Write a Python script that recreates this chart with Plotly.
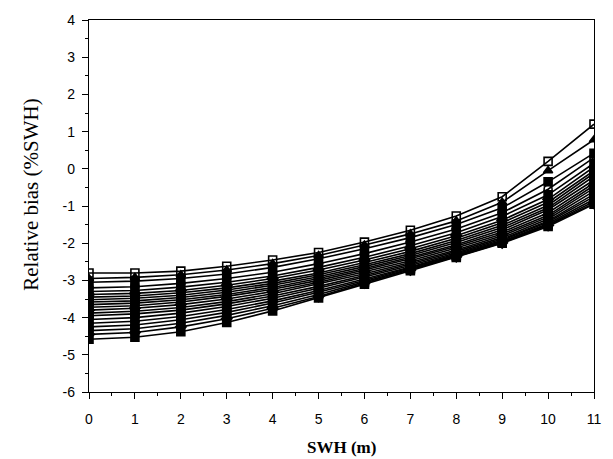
import plotly.graph_objects as go

# Significant wave height bins (m)
swh = [0, 1, 2, 3, 4, 5, 6, 7, 8, 9, 10, 11]

# Relative bias (% of SWH) for each model run, one list per curve
bias_01 = [-2.80, -2.80, -2.75, -2.62, -2.45, -2.25, -1.97, -1.65, -1.27, -0.75, 0.20, 1.20]
bias_02 = [-2.95, -2.92, -2.85, -2.72, -2.55, -2.33, -2.05, -1.75, -1.40, -0.90, -0.05, 0.78]
bias_03 = [-3.05, -3.02, -2.95, -2.83, -2.65, -2.42, -2.15, -1.85, -1.50, -1.05, -0.35, 0.42]
bias_04 = [-3.20, -3.17, -3.08, -2.95, -2.78, -2.55, -2.28, -1.97, -1.62, -1.18, -0.55, 0.30]
bias_05 = [-3.30, -3.27, -3.18, -3.05, -2.88, -2.65, -2.38, -2.07, -1.72, -1.28, -0.70, 0.15]
bias_06 = [-3.38, -3.35, -3.27, -3.13, -2.95, -2.72, -2.45, -2.15, -1.80, -1.38, -0.82, 0.05]
bias_07 = [-3.45, -3.42, -3.33, -3.20, -3.02, -2.80, -2.52, -2.22, -1.87, -1.45, -0.90, -0.05]
bias_08 = [-3.52, -3.48, -3.40, -3.26, -3.08, -2.85, -2.58, -2.28, -1.93, -1.52, -0.98, -0.12]
bias_09 = [-3.58, -3.55, -3.46, -3.32, -3.13, -2.90, -2.63, -2.33, -1.98, -1.58, -1.05, -0.20]
bias_10 = [-3.65, -3.61, -3.52, -3.38, -3.19, -2.95, -2.68, -2.38, -2.04, -1.64, -1.10, -0.30]
bias_11 = [-3.72, -3.68, -3.58, -3.43, -3.24, -3.00, -2.72, -2.42, -2.08, -1.70, -1.18, -0.38]
bias_12 = [-3.80, -3.75, -3.65, -3.50, -3.30, -3.05, -2.77, -2.47, -2.13, -1.75, -1.25, -0.45]
bias_13 = [-3.88, -3.83, -3.73, -3.57, -3.36, -3.10, -2.82, -2.52, -2.18, -1.80, -1.30, -0.52]
bias_14 = [-3.95, -3.90, -3.80, -3.63, -3.42, -3.16, -2.87, -2.56, -2.22, -1.85, -1.35, -0.60]
bias_15 = [-4.05, -4.00, -3.88, -3.70, -3.48, -3.21, -2.91, -2.60, -2.26, -1.89, -1.40, -0.68]
bias_16 = [-4.15, -4.10, -3.97, -3.78, -3.55, -3.27, -2.96, -2.64, -2.29, -1.92, -1.43, -0.75]
bias_17 = [-4.25, -4.20, -4.06, -3.86, -3.61, -3.32, -3.00, -2.67, -2.32, -1.95, -1.47, -0.82]
bias_18 = [-4.35, -4.30, -4.15, -3.94, -3.68, -3.38, -3.04, -2.70, -2.34, -1.97, -1.50, -0.88]
bias_19 = [-4.45, -4.40, -4.25, -4.03, -3.75, -3.43, -3.07, -2.72, -2.36, -1.99, -1.52, -0.93]
bias_20 = [-4.58, -4.53, -4.38, -4.13, -3.82, -3.47, -3.10, -2.74, -2.38, -2.00, -1.55, -0.95]

curves = [bias_01, bias_02, bias_03, bias_04, bias_05, bias_06, bias_07, bias_08, bias_09, bias_10,
          bias_11, bias_12, bias_13, bias_14, bias_15, bias_16, bias_17, bias_18, bias_19, bias_20]

# marker symbol per curve (open symbols show as white dots inside the black columns)
symbols = ["square-open", "triangle-up", "square", "circle-open", "square", "diamond-open",
           "square", "square-open", "square", "circle", "square", "diamond-open",
           "square", "square-open", "square", "circle-open", "square", "square",
           "diamond-open", "square"]

yticks = [4, 3, 2, 1, 0, -1, -2, -3, -4, -5, -6]
xticks = swh

fig = go.Figure()
for vals, sym in zip(curves, symbols):
    fig.add_trace(go.Scatter(
        x=swh, y=vals, mode="lines+markers",
        line=dict(color="black", width=1.6),
        marker=dict(symbol=sym, size=8, color="black",
                    line=dict(color="black", width=1.6)),
        showlegend=False,
    ))

axis_common = dict(
    showgrid=False, zeroline=False, showline=True, linecolor="black", linewidth=1.3,
    mirror=True, ticks="outside", ticklen=6, tickwidth=1.2, tickcolor="black",
    tickfont=dict(family="Liberation Sans, Arial", size=14, color="black"),
    minor=dict(ticks="outside", ticklen=3, tickwidth=1, tickcolor="black", dtick=0.5),
)

fig.update_xaxes(range=[0, 11], tickvals=xticks, ticktext=[str(v) for v in xticks],
                 ticklabelstandoff=8, **axis_common)
fig.update_yaxes(range=[-6, 4], tickvals=yticks, ticktext=[str(v) for v in yticks],
                 ticklabelstandoff=4, **axis_common)

fig.add_annotation(text="<b>SWH (m)</b>", xref="paper", yref="paper", x=0.5, y=-0.15,
                   showarrow=False, yanchor="middle",
                   font=dict(family="Liberation Serif, Times New Roman", size=17, color="black"))
fig.add_annotation(text="Relative bias (%SWH)", xref="paper", yref="paper", x=-0.115, y=0.53,
                   showarrow=False, textangle=-90, xanchor="center",
                   font=dict(family="Liberation Serif, Times New Roman", size=21, color="black"))

fig.update_layout(
    width=613, height=459,
    margin=dict(l=89, r=12, t=16, b=67),
    plot_bgcolor="white", paper_bgcolor="white",
)

fig.write_html("out.html")
